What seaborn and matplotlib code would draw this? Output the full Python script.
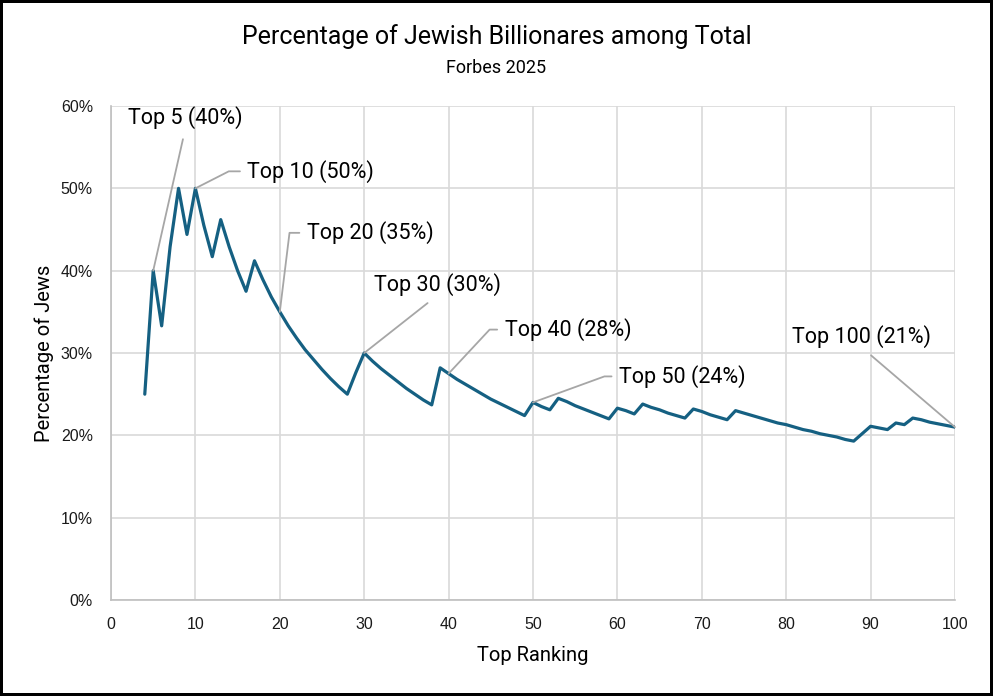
import numpy as np
import matplotlib
matplotlib.use("Agg")
import matplotlib.pyplot as plt
import seaborn as sns
from matplotlib import font_manager

# Top-N ranking and share of Jewish billionaires among the top N (%)
ranks = list(range(4, 101))
pct = [25.0, 40.0, 33.3, 42.9, 50.0, 44.4, 50.0, 45.5, 41.7, 46.2,
       42.9, 40.0, 37.5, 41.2, 38.9, 36.8, 35.0, 33.3, 31.8, 30.4,
       29.2, 28.0, 26.9, 25.9, 25.0, 27.6, 30.0, 29.0, 28.1, 27.3,
       26.5, 25.7, 25.0, 24.3, 23.7, 28.2, 27.5, 26.8, 26.2, 25.6,
       25.0, 24.4, 23.9, 23.4, 22.9, 22.4, 24.0, 23.5, 23.1, 24.5,
       24.1, 23.6, 23.2, 22.8, 22.4, 22.0, 23.3, 23.0, 22.6, 23.8,
       23.4, 23.1, 22.7, 22.4, 22.1, 23.2, 22.9, 22.5, 22.2, 21.9,
       23.0, 22.7, 22.4, 22.1, 21.8, 21.5, 21.3, 21.0, 20.7, 20.5,
       20.2, 20.0, 19.8, 19.5, 19.3, 20.2, 21.1, 20.9, 20.7, 21.5,
       21.3, 22.1, 21.9, 21.6, 21.4, 21.2, 21.0]

label_ranks = [5, 10, 20, 30, 40, 50, 100]
label_texts = ["Top 5 (40%)", "Top 10 (50%)", "Top 20 (35%)", "Top 30 (30%)",
               "Top 40 (28%)", "Top 50 (24%)", "Top 100 (21%)"]

x_ticks = list(range(0, 101, 10))
y_ticks = list(range(0, 61, 10))

sns.set_theme(style="whitegrid")

installed = {f.name for f in font_manager.fontManager.ttflist}
body_font = "Roboto" if "Roboto" in installed else "DejaVu Sans"
plt.rcParams["font.family"] = [body_font, "DejaVu Sans"]

line_color = "#156082"
grid_color = "#D9D9D9"
leader_color = "#A6A6A6"

fig = plt.figure(figsize=(9.93, 6.96), dpi=100)
fig.patch.set_facecolor("white")
fig.patch.set_edgecolor("black")
fig.patch.set_linewidth(3)
ax = fig.add_axes([0.1118, 0.1379, 0.8499, 0.7098])

sns.lineplot(x=ranks, y=pct, ax=ax, color=line_color, linewidth=2.3)

ax.set_xlim(0, 100)
ax.set_ylim(0, 60)
ax.set_xticks(x_ticks)
ax.set_yticks(y_ticks)
ax.set_yticklabels([f"{v}%" for v in y_ticks])
ax.grid(True, color=grid_color, linewidth=1.2)
ax.set_facecolor("white")
for side in ["top", "right"]:
    ax.spines[side].set_visible(False)
for side in ["left", "bottom"]:
    ax.spines[side].set_color("#BFBFBF")
    ax.spines[side].set_linewidth(1.2)
ax.tick_params(axis="both", labelsize=11.5, colors="#1a1a1a", length=0)
ax.tick_params(axis="x", pad=12)
ax.tick_params(axis="y", pad=13)
for lab in ax.get_xticklabels() + ax.get_yticklabels():
    lab.set_fontfamily(["Liberation Sans", "DejaVu Sans"])

ax.set_xlabel("Top Ranking", fontsize=14.5, color="black", labelpad=10)
ax.set_ylabel("Percentage of Jews", fontsize=14.5, color="black", labelpad=5)

fig.text(0.5, 0.947, "Percentage of Jewish Billionares among Total",
         ha="center", va="center", fontsize=18, color="black")
fig.text(0.5, 0.902, "Forbes 2025", ha="center", va="center", fontsize=13,
         color="black")

# label placement: (offset in pixels, style, leader angle)
label_style = {
    5: ((32, 153), "straight", None),
    10: ((52, 17), "elbow", 27),
    20: ((27, 79), "elbow", 83),
    30: ((73, 69), "straight", None),
    40: ((56, 44), "elbow", 47),
    50: ((86, 26), "elbow", 20),
    100: ((-93, 91), "straight", None),
}

for r, txt in zip(label_ranks, label_texts):
    yv = pct[ranks.index(r)]
    off, kind, ang = label_style[r]
    if kind == "straight":
        ax.annotate(txt, xy=(r, yv), xytext=off, textcoords="offset pixels",
                    ha="center", va="center", fontsize=15.5, color="black",
                    annotation_clip=False,
                    arrowprops=dict(arrowstyle="-", color=leader_color, lw=1.3,
                                    relpos=(0.5, 0), shrinkA=5, shrinkB=0))
    else:
        ax.annotate(txt, xy=(r, yv), xytext=off, textcoords="offset pixels",
                    ha="left", va="center", fontsize=15.5, color="black",
                    annotation_clip=False,
                    arrowprops=dict(arrowstyle="-", color=leader_color, lw=1.3,
                                    relpos=(0, 0.5), shrinkA=3, shrinkB=0,
                                    connectionstyle=f"angle,angleA=0,angleB={ang},rad=0"))

fig.savefig("out.png", dpi=100, facecolor="white", edgecolor="black")
